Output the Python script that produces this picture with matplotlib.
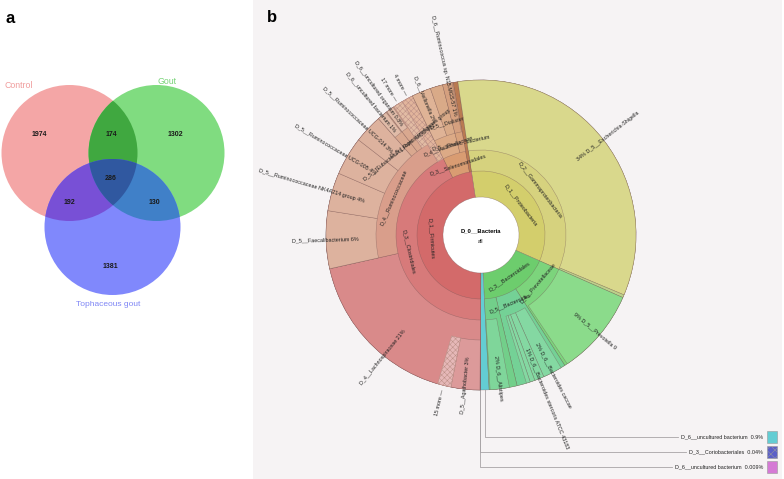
import numpy as np
import matplotlib.pyplot as plt
from matplotlib.patches import Circle, Rectangle, Polygon

plt.rcParams['font.family'] = ['Liberation Sans', 'DejaVu Sans']
plt.rcParams['hatch.linewidth'] = 0.35

# ---------------- panel a : Venn diagram ----------------
set_names = ['Control', 'Gout', 'Tophaceous gout']
set_colors = ['#f4a6a6', '#80dc80', '#8088fc']
region_keys = ['100', '110', '010', '111', '101', '011', '001']
region_counts = [1974, 174, 1302, 286, 192, 130, 1381]
pair_keys = ['110', '101', '011']
pair_colors = ['#40a840', '#7850d6', '#4080c8']
triple_color = '#3058a0'

# ---------------- panel b : Krona chart (percent of all reads, clockwise) ----------------
theta0 = -8.6          # start of the first wedge, degrees clockwise from 12 o'clock

names1 = ['D_1__Proteobacteria', 'D_3__Bacteroidales', 'D_6__uncultured bacterium',
          'D_3__Coriobacteriales', 'D_6__uncultured bacterium', 'D_1__Firmicutes']
pct1 = [34.0, 17.55, 0.9, 0.04, 0.009, 47.5]
col1 = ['#d3ce6c', '#6dcd6d', '#63cdd3', '#5b5fc8', '#d57ad5', '#d36a6a']
kind1 = ['t', 't', '', '', '', 't']

names2 = ['D_2__Gammaproteobacteria', 'D_4__Prevotellaceae', 'D_5__Bacteroides', '', None,
          'D_3__Clostridiales', 'D_3__Selenomonadales', '']
pct2 = [34.0, 9.3, 5.35, 2.9, 0.949, 42.6, 4.4, 0.5]
col2 = ['#d6d27e', '#7cd47c', '#74d196', '#72cf8a', None, '#d77a7a', '#d99c72', '#b97a52']
kind2 = ['t', 't', 't', '', '', 't', 't', '']

names3 = ['D_5__Escherichia-Shigella', '', 'D_5__Prevotella 9', None, None,
          'D_6__Bacteroides caccae', 'D_6__Bacteroides stercoris ATCC 43183', '', '', None,
          None, 'D_6__Alistipes', None, None,
          'D_4__Lachnospiraceae', 'D_4__Ruminococcaceae', '4 more',
          'D_4__Veillonellaceae', 'D_5__Phasc...bacterium', None]
pct3 = [33.7, 0.3, 9.0, 0.3, 0.45, 2.0, 1.0, 0.5, 0.4, 1.0, 0.8, 2.0, 0.1, 0.949,
        21.4, 20.0, 1.2, 3.3, 1.1, 0.5]
col3 = ['#d9d88c', '#bcd08a', '#8bdb8b', None, None, '#84d8a2', '#84d8a2', '#84d8a2',
        '#84d8a2', None, None, '#7fd69a', None, None,
        '#d98a8a', '#d99e8b', '#e2b59c', '#dcaa86', '#d8a27c', None]
kind3 = ['r', '', 'r', '', '', 'r', 'r', '', '', '', '', 'r', '', '',
         'r', 't', 'h', 't', 't', '']

names4 = [None, 'D_5__Agathobacter', '15 more', None,
          'D_5__Faecalibacterium', 'D_5__Ruminococcaceae NK4A214 group',
          'D_5__Ruminococcaceae UCG-005', 'D_5__Ruminococcaceae UCG-014',
          'D_5__[Eubacterium] coprostanoligenes group', 'D_5__Rum.. UCG-002', '17 more', None,
          'D_6__Veillonella', 'D_5__Dialister', 'D_6__Ruminococcus sp. N15.MGS-57', None, None]
pct4 = [52.499, 3.0, 1.4, 17.0, 6.0, 4.0, 4.0, 3.0, 1.1, 0.9, 1.0, 1.2, 2.0, 1.3, 1.0, 0.1, 0.5]
col4 = [None, '#dc9a9a', '#e6b8b8', None, '#ddb29e', '#ddb29e', '#ddb29e', '#ddb29e',
        '#d9a88f', '#d9a88f', '#e2bca4', None, '#dfb396', '#d9aa88', '#d5a07f', None, None]
kind4 = ['', 'r', 'h', '', 'r', 'r', 'r', 'r', 't', 't', 'h', '', 'r', 't', 'r', '', '']

names5 = [None, 'D_6__uncultured bacterium', None, 'D_6__uncultured organism']
pct5 = [90.899, 1.0, 0.1, 0.8]
col5 = [None, '#e0bba8', None, '#e0bba8']
kind5 = ['', 'r', '', 'r']

ring_names = [names1, names2, names3, names4, names5]
ring_pct = [pct1, pct2, pct3, pct4, pct5]
ring_cols = [col1, col2, col3, col4, col5]
ring_kinds = [kind1, kind2, kind3, kind4, kind5]
ring_bottom = [38, 64, 85, 105, 130]
ring_label_r = [50, 74, 95, 117, 140]
r_outer = 155

W, H = 784, 479
fig = plt.figure(figsize=(W / 100, H / 100), dpi=100)
canvas = fig.add_axes([0, 0, 1, 1])
canvas.set_xlim(0, W)
canvas.set_ylim(H, 0)
canvas.axis('off')

# ---- Venn
centers = [(69.5, 153), (156.5, 153), (112.5, 227)]
rad = 68
circles = []
for c, col in zip(centers, set_colors):
    p = Circle(c, rad, facecolor=col, edgecolor='none')
    canvas.add_patch(p)
    circles.append(p)
for key, col in zip(pair_keys, pair_colors):
    i, j = [k for k, b in enumerate(key) if b == '1']
    p = Circle(centers[j], rad, facecolor=col, edgecolor='none')
    canvas.add_patch(p)
    p.set_clip_path(circles[i])
# triple overlap as a polygon
tt = np.linspace(0, 2 * np.pi, 720)
pts = []
for k, c in enumerate(centers):
    xy = np.c_[c[0] + rad * np.cos(tt), c[1] + rad * np.sin(tt)]
    keep = np.ones(len(xy), bool)
    for m, c2 in enumerate(centers):
        if m != k:
            keep &= np.hypot(xy[:, 0] - c2[0], xy[:, 1] - c2[1]) <= rad + 1e-6
    pts.append(xy[keep])
pts = np.vstack(pts)
mc = pts.mean(axis=0)
pts = pts[np.argsort(np.arctan2(pts[:, 1] - mc[1], pts[:, 0] - mc[0]))]
canvas.add_patch(Polygon(pts, closed=True, facecolor=triple_color, edgecolor='none'))

count_pos = [(39.5, 135), (111, 135), (175, 135), (111, 178), (69, 203), (154, 203), (110, 266)]
for (x, y), n in zip(count_pos, region_counts):
    canvas.text(x, y, str(n), ha='center', va='center', fontsize=5, fontweight='bold', color='#1a1a1a')
canvas.text(5, 85, set_names[0], ha='left', va='center', fontsize=6.3, color='#f09c9c')
canvas.text(167.5, 81, set_names[1], ha='center', va='center', fontsize=6.3, color='#78d478')
canvas.text(108, 305, set_names[2], ha='center', va='center', fontsize=6.0, color='#7f86f5')
canvas.text(6, 23, 'a', fontsize=12, fontweight='bold', va='baseline')

# ---- Krona background
canvas.add_patch(Rectangle((253, 0), 529, H, facecolor='#f6f3f4', edgecolor='none'))
canvas.text(267, 22, 'b', fontsize=12, fontweight='bold', va='baseline')

cx, cy, R = 481, 235, 240
ax = fig.add_axes([(cx - R) / W, (H - cy - R) / H, 2 * R / W, 2 * R / H], projection='polar')
ax.set_theta_zero_location('N')
ax.set_theta_direction(-1)
ax.set_ylim(0, R)
ax.set_axis_off()

edge = (0.45, 0.33, 0.33, 0.55)
fs = 3.9


def fmt(p):
    return f'{p:.0f}%' if p >= 1 else f'{p:g}%'


def radial(theta, r, name, tail):
    th = theta % 360
    if th >= 180:
        txt, rot, ha = f'{name} {tail}', 270 - th, 'right'
    else:
        txt, rot, ha = f'{tail} {name}', 90 - th, 'left'
    ax.text(np.radians(theta), r, txt, rotation=rot, rotation_mode='anchor',
            ha=ha, va='center', fontsize=fs, color='#222222')


def tangential(theta, r, name):
    rot = (-(theta % 360)) % 360
    if 90 < rot <= 270:
        rot -= 180
    elif rot > 270:
        rot -= 360
    ax.text(np.radians(theta), r, name, rotation=rot, rotation_mode='anchor',
            ha='center', va='center', fontsize=fs, color='#222222')


ax.bar(0, ring_bottom[0], width=2 * np.pi, bottom=0, color='white', linewidth=0)
for names, pct, cols, kinds, rb, rl in zip(ring_names, ring_pct, ring_cols, ring_kinds,
                                           ring_bottom, ring_label_r):
    pct = np.array(pct)
    starts = theta0 + 3.6 * (np.cumsum(pct) - pct)
    for name, p, c, k, s in zip(names, pct, cols, kinds, starts):
        if name is None:
            continue
        mid = s + 1.8 * p
        if k == 'h':
            ax.bar(np.radians(mid), r_outer - rb, width=np.radians(3.6 * p), bottom=rb,
                   color=c, edgecolor='#bb8f86', linewidth=0.35, hatch='xxxxxx')
        else:
            ax.bar(np.radians(mid), r_outer - rb, width=np.radians(3.6 * p), bottom=rb,
                   color=c, edgecolor=edge, linewidth=0.35)
        if k == 't':
            tangential(mid, rl, name)
        elif k == 'r':
            radial(mid, 135 if rb >= 130 else 122, name, fmt(p))
        elif k == 'h':
            radial(mid, 159, name, '\u2014')

ax.text(0, 2, 'D_0__Bacteria', ha='center', va='bottom', fontsize=4.2, fontweight='bold')
ax.text(np.pi, 6, 'all', ha='center', va='center', fontsize=4.0)

# ---- leader lines to the tiny wedges
starts1 = theta0 + 3.6 * (np.cumsum(pct1) - np.array(pct1))
small = [i for i, p in enumerate(pct1) if p < 1]
row_y = [437, 452, 467]
fig.canvas.draw()
renderer = fig.canvas.get_renderer()
for i, y in zip(small, row_y):
    mid = np.radians(starts1[i] + 1.8 * pct1[i])
    x0 = cx + r_outer * np.sin(mid)
    y0 = cy - r_outer * np.cos(mid)
    t = canvas.text(763, y, f'{names1[i]}  {fmt(pct1[i])}', ha='right', va='center',
                    fontsize=fs, color='#222222')
    ext = t.get_window_extent(renderer).transformed(canvas.transData.inverted())
    canvas.plot([x0, x0, ext.x0 - 3], [y0, y, y], color='#a8a4a6', lw=0.6)
    canvas.add_patch(Rectangle((767, y - 6), 10, 12, facecolor=col1[i],
                               edgecolor='#9a9a9a', lw=0.4,
                               hatch='xxxx' if pct1[i] < 0.1 and i == small[1] else None))

fig.savefig('out.png', dpi=100)
